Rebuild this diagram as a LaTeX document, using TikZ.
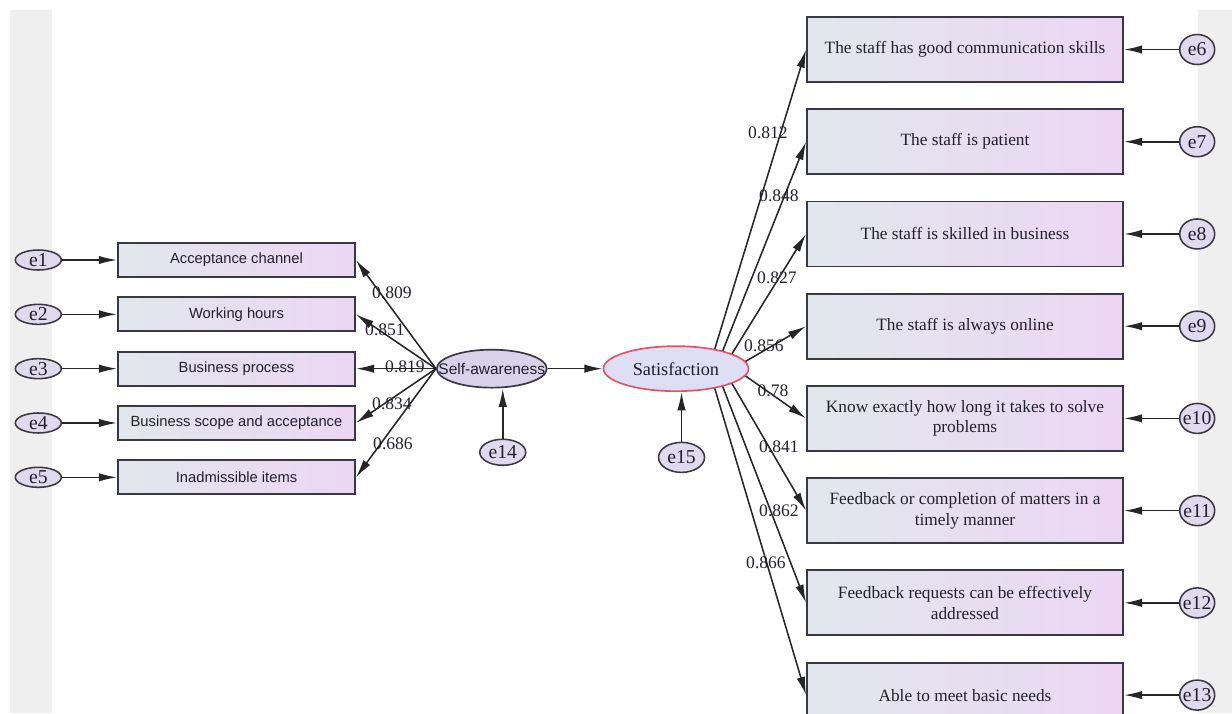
\documentclass[tikz,border=0pt]{standalone}
\usepackage{fontspec}
\setmainfont{Liberation Serif}
\newfontfamily\arialfont{Liberation Sans}
\usetikzlibrary{arrows.meta, positioning, shapes.geometric}
\definecolor{BoxLeft}{RGB}{226,231,237}
\definecolor{BoxRight}{RGB}{236,214,243}
\definecolor{ErrFill}{RGB}{224,218,238}
\definecolor{LatFill}{RGB}{216,210,234}
\definecolor{SatFill}{RGB}{222,222,244}
\definecolor{SatRed}{RGB}{226,84,100}
\definecolor{EdgeGray}{RGB}{58,56,66}
\definecolor{BandGray}{RGB}{239,239,239}
\definecolor{InkText}{RGB}{34,32,44}

\begin{document}
\begin{tikzpicture}[
    node distance=0.4625cm and 1.375cm,
    lbox/.style={
        draw=EdgeGray,
        line width=1.3pt,
        left color=BoxLeft,
        right color=BoxRight,
        minimum width=5.925cm,
        minimum height=0.85cm,
        inner sep=0pt,
        text=InkText,
        font=\arialfont\fontsize{10.5}{12}\selectfont
    },
    rbox/.style={
        draw=EdgeGray,
        line width=1.3pt,
        left color=BoxLeft,
        right color=BoxRight,
        minimum width=7.9cm,
        minimum height=1.625cm,
        inner sep=0pt,
        align=center,
        text=InkText,
        font=\fontsize{12.3}{14.5}\selectfont
    },
    err/.style={
        ellipse,
        draw=EdgeGray,
        line width=1.1pt,
        fill=ErrFill,
        inner sep=0pt,
        text=InkText,
        font=\fontsize{14}{14}\selectfont
    },
    lat/.style={
        ellipse,
        draw=#1,
        line width=1.2pt,
        inner sep=0pt,
        text=InkText
    },
    arr/.style={-{Latex[length=13pt, width=6pt]}, line width=1.1pt, color=black!85},
    lbl/.style={font=\fontsize{12.5}{12.5}\selectfont, text=InkText, inner sep=0pt}
]

\useasboundingbox (0,0) rectangle (30.8,-17.825);
\fill[BandGray] (0.25,-0.25) rectangle (1.3,-17.825);
\fill[BandGray] (29.95,-0.25) rectangle (30.8,-17.825);

% SELF-AWARENESS INDICATORS
\node[lbox] (ac) at (5.9125,-6.5) {Acceptance channel};
\node[lbox, below=of ac] (wh) {Working hours};
\node[lbox, below=of wh] (bp) {Business process};
\node[lbox, below=of bp] (bs) {Business scope and acceptance};
\node[lbox, below=of bs] (ii) {Inadmissible items};

\node[err, minimum width=1.15cm, minimum height=0.5cm, left=of ac] (e1) {\makebox[0pt]{e1}};
\node[err, minimum width=1.15cm, minimum height=0.5cm, left=of wh] (e2) {\makebox[0pt]{e2}};
\node[err, minimum width=1.15cm, minimum height=0.5cm, left=of bp] (e3) {\makebox[0pt]{e3}};
\node[err, minimum width=1.15cm, minimum height=0.5cm, left=of bs] (e4) {\makebox[0pt]{e4}};
\node[err, minimum width=1.15cm, minimum height=0.5cm, left=of ii] (e5) {\makebox[0pt]{e5}};

\draw[arr] (e1) -- (ac);
\draw[arr] (e2) -- (wh);
\draw[arr] (e3) -- (bp);
\draw[arr] (e4) -- (bs);
\draw[arr] (e5) -- (ii);

% LATENTS
\node[lat=EdgeGray, fill=LatFill, minimum width=2.75cm, minimum height=0.95cm,
right=2cm of bp] (sa)
{\makebox[0pt]{\arialfont\fontsize{11}{12}\selectfont Self-awareness}};

\node[lat=SatRed, fill=SatFill, minimum width=3.625cm, minimum height=1.125cm,
right=of sa] (sat)
{\makebox[0pt]{\fontsize{13}{14}\selectfont Satisfaction}};

\node[err, minimum width=1.15cm, minimum height=0.65cm,
below=1.25cm of sa, xshift=0.275cm] (e14) {\makebox[0pt]{e14}};

\node[err, minimum width=1.15cm, minimum height=0.75cm,
below=1.24cm of sat, xshift=0.14cm] (e15) {\makebox[0pt]{e15}};

\draw[arr] (sa) -- (sat);
\draw[arr] (e14) -- (e14 |- sa.south);
\draw[arr] (e15) -- (e15 |- sat.south);

\draw[arr] (sa.west) -- (ac.east);
\draw[arr] (sa.west) -- (wh.east);
\draw[arr] (sa.west) -- (bp.east);
\draw[arr] (sa.west) -- (bs.east);
\draw[arr] (sa.west) -- (ii.east);

% SATISFACTION INDICATORS
\node[rbox] (gc) at (24.125,-1.2375) {The staff has good communication skills};
\node[rbox, below=0.635cm of gc] (pt) {The staff is patient};
\node[rbox, below=0.635cm of pt] (sb) {The staff is skilled in business};
\node[rbox, below=0.635cm of sb] (on) {The staff is always online};
\node[rbox, below=0.635cm of on] (kn) {Know exactly how long it takes to solve\\problems};
\node[rbox, below=0.635cm of kn] (fb) {Feedback or completion of matters in a\\timely manner};
\node[rbox, below=0.635cm of fb] (fr) {Feedback requests can be effectively\\addressed};
\node[rbox, below=0.635cm of fr] (bn) {Able to meet basic needs};

\node[err, minimum width=0.875cm, minimum height=0.75cm, right=of gc] (e6) {\makebox[0pt]{e6}};
\node[err, minimum width=0.875cm, minimum height=0.75cm, right=of pt] (e7) {\makebox[0pt]{e7}};
\node[err, minimum width=0.875cm, minimum height=0.75cm, right=of sb] (e8) {\makebox[0pt]{e8}};
\node[err, minimum width=0.875cm, minimum height=0.75cm, right=of on] (e9) {\makebox[0pt]{e9}};
\node[err, minimum width=0.875cm, minimum height=0.75cm, right=of kn] (e10) {\makebox[0pt]{e10}};
\node[err, minimum width=0.875cm, minimum height=0.75cm, right=of fb] (e11) {\makebox[0pt]{e11}};
\node[err, minimum width=0.875cm, minimum height=0.75cm, right=of fr] (e12) {\makebox[0pt]{e12}};
\node[err, minimum width=0.875cm, minimum height=0.75cm, right=of bn] (e13) {\makebox[0pt]{e13}};

\draw[arr] (e6) -- (gc);
\draw[arr] (e7) -- (pt);
\draw[arr] (e8) -- (sb);
\draw[arr] (e9) -- (on);
\draw[arr] (e10) -- (kn);
\draw[arr] (e11) -- (fb);
\draw[arr] (e12) -- (fr);
\draw[arr] (e13) -- (bn);

\draw[arr] (sat.27) -- (gc.west);
\draw[arr] (sat.21) -- (pt.west);
\draw[arr] (sat.15) -- (sb.west);
\draw[arr] (sat.6) -- (on.west);
\draw[arr] (sat.-6) -- (kn.west);
\draw[arr] (sat.-15) -- (fb.west);
\draw[arr] (sat.-21) -- (fr.west);
\draw[arr] (sat.-27) -- (bn.west);

% LOADINGS
\node[lbl] (l1) at (9.8,-7.325) {0.809};
\node[lbl] (l2) at (9.625,-8.25) {0.851};
\node[lbl] (l3) at (10.125,-9.175) {0.819};
\node[lbl] (l4) at (9.8,-10.1) {0.834};
\node[lbl] (l5) at (9.825,-11.1) {0.686};

\node[lbl] (l6) at (19.2,-3.325) {0.812};
\node[lbl] (l7) at (19.475,-4.9) {0.848};
\node[lbl] (l8) at (19.425,-6.95) {0.827};
\node[lbl] (l9) at (19.1,-8.65) {0.856};
\node[lbl] (l10) at (19.325,-9.775) {0.78};
\node[lbl] (l11) at (19.475,-11.175) {0.841};
\node[lbl] (l12) at (19.475,-12.775) {0.862};
\node[lbl] (l13) at (19.15,-14.075) {0.866};

\end{tikzpicture}
\end{document}
